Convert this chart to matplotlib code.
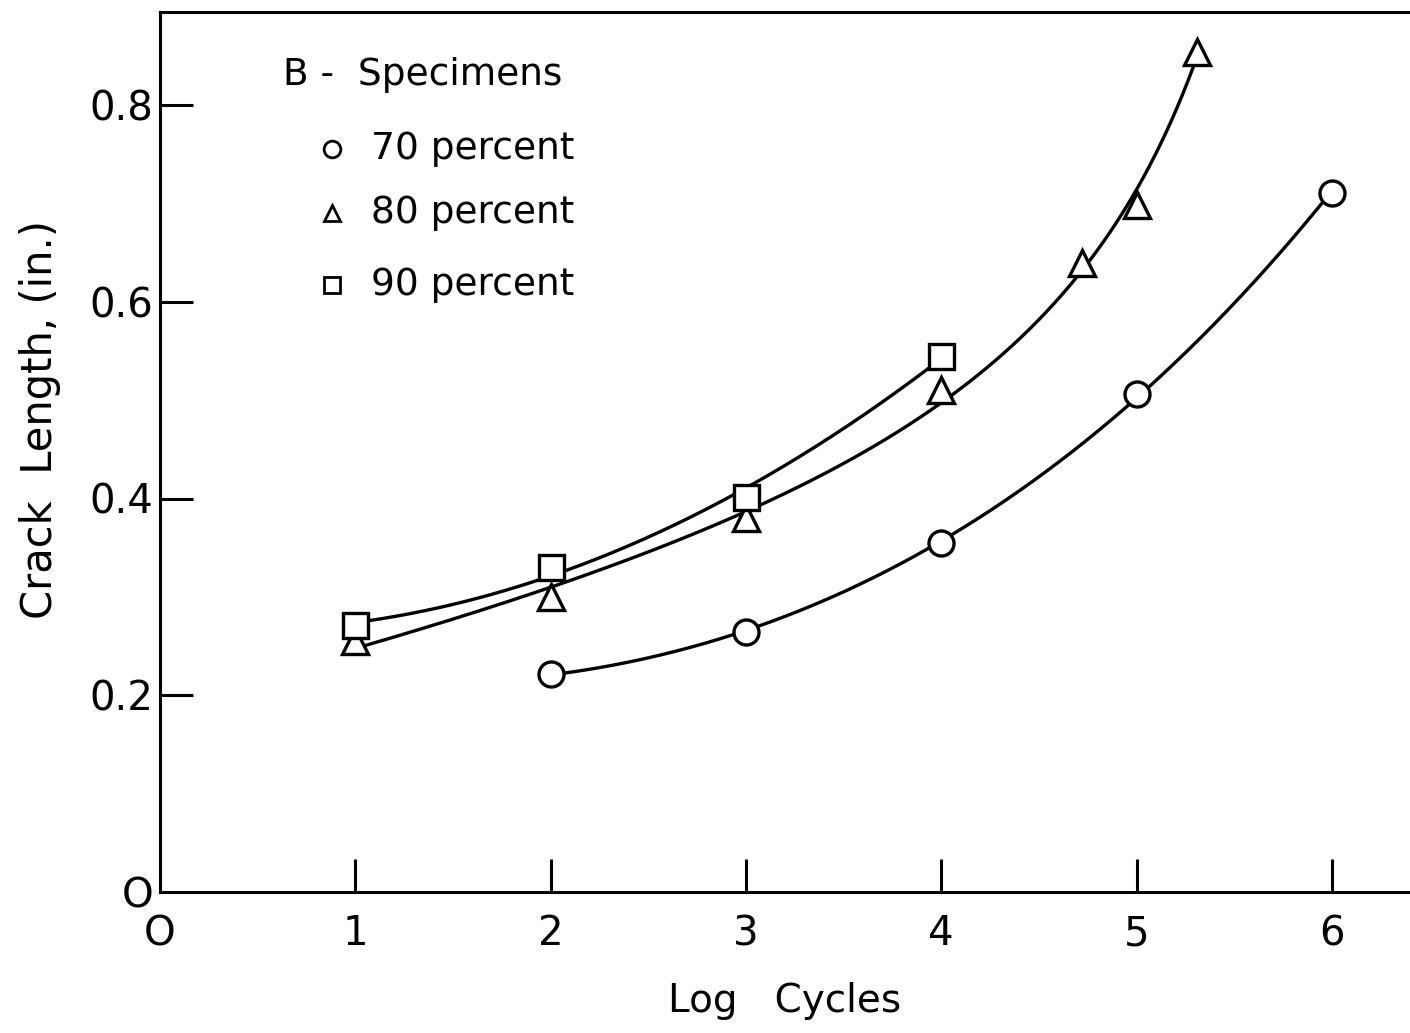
#!/usr/bin/env python3
"""
Crack length vs log cycles for B-specimens (70/80/90 percent load levels).
"""
import numpy as np
import matplotlib
matplotlib.use("Agg")
import matplotlib.pyplot as plt

# data
x70 = [2.0, 3.0, 4.0, 5.0, 6.0]
y70 = [0.222, 0.264, 0.355, 0.506, 0.711]

x80 = [1.0, 2.0, 3.0, 4.0, 4.72, 5.0, 5.31]
y80 = [0.255, 0.300, 0.380, 0.510, 0.639, 0.698, 0.854]

x90 = [1.0, 2.0, 3.0, 4.0]
y90 = [0.271, 0.330, 0.402, 0.545]

series = [
    ("70 percent", x70, y70, "o"),
    ("80 percent", x80, y80, "^"),
    ("90 percent", x90, y90, "s"),
]

xticks = [0, 1, 2, 3, 4, 5, 6]
xticklabels = ["O", "1", "2", "3", "4", "5", "6"]
yticks = [0, 0.2, 0.4, 0.6, 0.8]
yticklabels = ["O", "0.2", "0.4", "0.6", "0.8"]


def fit_curve(xs, ys, n=300):
    """Smooth hand-drawn style curve through the points"""
    x = np.asarray(xs, float)
    y = np.asarray(ys, float)
    xx = np.linspace(x[0], x[-1], n)
    if len(x) < 5:
        # few points: a parabola is enough
        return xx, np.polyval(np.polyfit(x, y, 2), xx)
    # growth curve y = a + d*x + b/(c - x), least squares over c
    best = None
    for c in np.linspace(x.max() + 0.05, x.max() + 15, 600):
        A = np.column_stack([np.ones_like(x), x, 1.0 / (c - x)])
        coef = np.linalg.lstsq(A, y, rcond=None)[0]
        err = np.sum((A @ coef - y) ** 2)
        if best is None or err < best[0]:
            best = (err, c, coef)
    _, c, coef = best
    return xx, coef[0] + coef[1] * xx + coef[2] / (c - xx)


plt.rcParams["font.family"] = ["DejaVu Sans"]

W, H = 1410, 1033
fig = plt.figure(figsize=(W / 100, H / 100), dpi=100)
ax = fig.add_axes([160 / W, (H - 892) / H, 1250 / W, 880 / H])

ax.set_xlim(0, 1250 / 195.3)
ax.set_ylim(0, 880 / 983.75)

marker_sizes = {"o": 18, "^": 19, "s": 18}
zorder = {"o": 3, "^": 3, "s": 4}

for label, xs, ys, mk in series:
    xx, yy = fit_curve(xs, ys)
    ax.plot(xx, yy, color="black", lw=2.4, zorder=2)
    ax.plot(xs, ys, linestyle="none", marker=mk, ms=marker_sizes[mk],
            mfc="white", mec="black", mew=2.4, zorder=zorder[mk])

# spines: left, bottom and top only, right side runs off the page
for side in ["left", "bottom", "top"]:
    ax.spines[side].set_linewidth(2.2)
ax.spines["right"].set_visible(False)

ax.set_xticks(xticks)
ax.set_xticklabels(xticklabels, fontsize=29)
ax.set_yticks(yticks)
ax.set_yticklabels(yticklabels, fontsize=29)
ax.tick_params(axis="both", direction="in", length=24, width=2.2)
ax.tick_params(axis="x", pad=16)
ax.tick_params(axis="y", pad=5)
# no tick at the origin
ax.xaxis.get_major_ticks()[0].tick1line.set_visible(False)
ax.yaxis.get_major_ticks()[0].tick1line.set_visible(False)

ax.set_xlabel("Log   Cycles", fontsize=28, labelpad=20)
ax.set_ylabel("Crack  Length, (in.)", fontsize=30)
ax.yaxis.set_label_coords(-0.079, 0.537)

# hand-lettered key in the upper left
ax.text(0.63, 0.83, "B -  Specimens", fontsize=27, va="center", ha="left")
key_y = [0.755, 0.69, 0.617]
for (label, xs, ys, mk), ky in zip(series, key_y):
    ax.plot([0.88], [ky], linestyle="none", marker=mk, ms=12,
            mfc="white", mec="black", mew=2.0)
    ax.text(1.08, ky, label, fontsize=27, va="center", ha="left")

fig.savefig("out.png", dpi=100)
